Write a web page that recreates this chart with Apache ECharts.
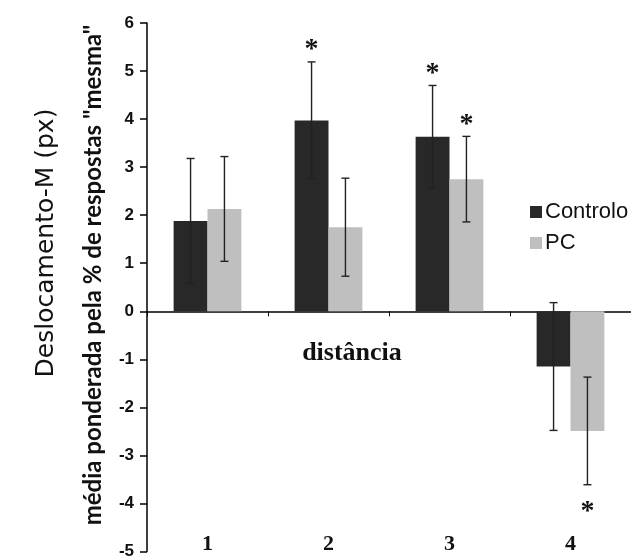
<!DOCTYPE html>
<html>
<head>
<meta charset="utf-8">
<script src="https://cdn.jsdelivr.net/npm/echarts@6/dist/echarts.min.js"></script>
<style>
  html, body { margin: 0; padding: 0; background: #fff; }
  #chart { width: 631px; height: 560px; }
</style>
</head>
<body>
<div id="chart"></div>
<script>
// Distance categories
const categories = ['1', '2', '3', '4'];

// Group means and their error half-widths
const controlo = [1.88, 3.97, 3.63, -1.15];
const controloErr = [1.30, 1.22, 1.07, 1.33];
const pc = [2.13, 1.75, 2.75, -2.49];
const pcErr = [1.09, 1.02, 0.89, 1.12];

// Significance markers (asterisks)
const controloSig = [false, true, true, false];
const pcSig = [false, false, true, true];

// Value axis range
const yMin = -5;
const yMax = 6;
const yStep = 1;

const DARK = '#282828';
const LIGHT = '#bfbfbf';
const CATEGORY_GAP = 0.44;

function errorSeries(name, means, errs, sig, side) {
  return {
    type: 'custom',
    name: name + ' erro',
    xAxisIndex: 0,
    z: 5,
    data: means.map((m, i) => [i, m - errs[i], m + errs[i], m, sig[i] ? 1 : 0]),
    renderItem: function (params, api) {
      const i = api.value(0);
      const lo = api.coord([i, api.value(1)]);
      const hi = api.coord([i, api.value(2)]);
      const bandW = api.size([1, 0])[0];
      const barW = bandW * (1 - CATEGORY_GAP) / 2;
      const x = lo[0] + side * barW / 2;
      const cap = 4;
      const style = { stroke: '#222', lineWidth: 1.4 };
      const children = [
        { type: 'line', shape: { x1: x, y1: lo[1], x2: x, y2: hi[1] }, style },
        { type: 'line', shape: { x1: x - cap, y1: lo[1], x2: x + cap, y2: lo[1] }, style },
        { type: 'line', shape: { x1: x - cap, y1: hi[1], x2: x + cap, y2: hi[1] }, style }
      ];
      if (api.value(4)) {
        const positive = api.value(3) >= 0;
        const ty = positive ? hi[1] - 12 : lo[1] + 27;
        children.push({
          type: 'text',
          style: {
            text: '*', x: x, y: ty,
            align: 'center', verticalAlign: 'middle',
            font: 'bold 28px "Liberation Serif", "Times New Roman", serif',
            fill: '#111'
          }
        });
      }
      return { type: 'group', children };
    }
  };
}

const chart = echarts.init(document.getElementById('chart'), null, { renderer: 'canvas' });

chart.setOption({
  animation: false,
  backgroundColor: '#fff',
  grid: { left: 147, top: 23, width: 484, height: 531, containLabel: false },
  legend: {
    data: ['Controlo', 'PC'],
    orient: 'vertical',
    left: 525,
    top: 196,
    itemWidth: 12,
    itemHeight: 12,
    itemGap: 9,
    icon: 'rect',
    textStyle: { fontFamily: '"Liberation Sans", Arial, sans-serif', fontSize: 22, color: '#111', padding: [0, 0, 0, -2] }
  },
  xAxis: [
    {
      type: 'category',
      data: categories,
      position: 'bottom',
      axisLine: { show: true, onZero: true, lineStyle: { color: '#000', width: 1.5 } },
      axisTick: { show: true, alignWithLabel: false, length: 5, lineStyle: { color: '#000', width: 1 } },
      axisLabel: { show: false },
      splitLine: { show: false }
    },
    {
      type: 'category',
      data: categories,
      position: 'bottom',
      axisLine: { show: false, onZero: false },
      axisTick: { show: false },
      axisLabel: {
        show: true,
        margin: -7,
        verticalAlign: 'middle',
        fontFamily: '"Liberation Serif", "Times New Roman", serif',
        fontWeight: 'bold',
        fontSize: 22,
        color: '#111'
      },
      splitLine: { show: false }
    }
  ],
  yAxis: {
    type: 'value',
    min: yMin,
    max: yMax,
    interval: yStep,
    axisLine: { show: true, lineStyle: { color: '#000', width: 1.5 } },
    axisTick: { show: true, inside: false, length: 7, lineStyle: { color: '#000', width: 1.5 } },
    axisLabel: {
      margin: 13,
      fontFamily: '"Liberation Sans", Arial, sans-serif',
      fontWeight: 'bold',
      fontSize: 17,
      color: '#111'
    },
    splitLine: { show: false }
  },
  graphic: [
    {
      type: 'text',
      x: 46, y: 243,
      rotation: Math.PI / 2,
      style: {
        text: 'Deslocamento-M (px)',
        align: 'center', verticalAlign: 'middle',
        font: '25px "DejaVu Sans", Verdana, sans-serif',
        fill: '#111'
      }
    },
    {
      type: 'text',
      x: 93, y: 275,
      rotation: Math.PI / 2,
      style: {
        text: 'média ponderada pela % de respostas "mesma"',
        align: 'center', verticalAlign: 'middle',
        font: 'bold 24px Lato, "Liberation Sans", sans-serif',
        fill: '#111'
      }
    },
    {
      type: 'text',
      x: 352, y: 353,
      style: {
        text: 'distância',
        align: 'center', verticalAlign: 'middle',
        font: 'bold 26px "Liberation Serif", "Times New Roman", serif',
        fill: '#111'
      }
    }
  ],
  series: [
    {
      name: 'Controlo',
      type: 'bar',
      data: controlo,
      barGap: '0%',
      barCategoryGap: (CATEGORY_GAP * 100) + '%',
      itemStyle: { color: DARK }
    },
    {
      name: 'PC',
      type: 'bar',
      data: pc,
      barGap: '0%',
      barCategoryGap: (CATEGORY_GAP * 100) + '%',
      itemStyle: { color: LIGHT }
    },
    errorSeries('Controlo', controlo, controloErr, controloSig, -1),
    errorSeries('PC', pc, pcErr, pcSig, 1)
  ]
});
</script>
</body>
</html>
